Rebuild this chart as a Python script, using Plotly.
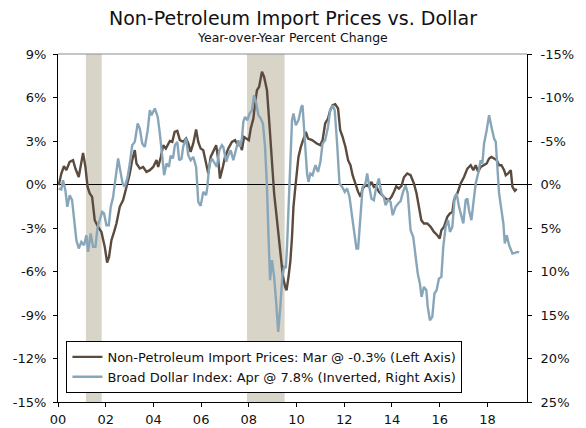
import plotly.graph_objects as go

# ---------------- data ----------------
import_x = [2000.03, 2000.14, 2000.25, 2000.35, 2000.49, 2000.63, 2000.73, 2000.87,
            2001.05, 2001.15, 2001.24, 2001.33, 2001.43, 2001.54, 2001.68, 2001.82, 2001.96,
            2002.06, 2002.14, 2002.24, 2002.35, 2002.45, 2002.59, 2002.73, 2002.87,
            2003.01, 2003.11, 2003.22, 2003.29, 2003.43, 2003.57, 2003.71, 2003.85, 2003.99,
            2004.13, 2004.20, 2004.31, 2004.41, 2004.52, 2004.69, 2004.79, 2004.89,
            2005.00, 2005.11, 2005.25, 2005.37, 2005.46, 2005.56, 2005.67, 2005.79, 2005.88, 2005.98,
            2006.09, 2006.21, 2006.30, 2006.40, 2006.51, 2006.63, 2006.72, 2006.79, 2006.91,
            2007.00, 2007.14, 2007.29, 2007.42, 2007.54, 2007.63, 2007.71, 2007.80, 2007.92,
            2008.00, 2008.08, 2008.19, 2008.26, 2008.34, 2008.43, 2008.55, 2008.64, 2008.76, 2008.87, 2008.97,
            2009.06, 2009.18, 2009.29, 2009.34, 2009.43, 2009.53, 2009.58, 2009.66, 2009.74, 2009.81, 2009.87, 2009.95,
            2010.02, 2010.08, 2010.18, 2010.29, 2010.39, 2010.48, 2010.65, 2010.85, 2010.99,
            2011.09, 2011.20, 2011.32, 2011.41, 2011.51, 2011.62, 2011.74, 2011.83, 2011.93,
            2012.05, 2012.16, 2012.26, 2012.35, 2012.47, 2012.58, 2012.68, 2012.77, 2012.89,
            2013.03, 2013.14, 2013.24, 2013.34, 2013.45, 2013.59, 2013.73, 2013.87, 2013.98,
            2014.08, 2014.18, 2014.29, 2014.40, 2014.50, 2014.64, 2014.78, 2014.92,
            2015.03, 2015.13, 2015.23, 2015.34, 2015.48, 2015.62, 2015.76, 2015.90,
            2016.00, 2016.07, 2016.18, 2016.32, 2016.43, 2016.53, 2016.60, 2016.74, 2016.88,
            2017.02, 2017.16, 2017.30, 2017.41, 2017.51, 2017.61, 2017.72, 2017.86, 2017.97,
            2018.07, 2018.17, 2018.28, 2018.39, 2018.49, 2018.59, 2018.70, 2018.77, 2018.87, 2018.98,
            2019.05, 2019.15, 2019.23]
import_y = [-0.05, 0.76, 1.26, 0.99, 1.56, 1.68, 1.10, 0.52,
            2.18, 1.21, -0.17, -0.62, -0.85, -2.46, -2.92, -3.27, -4.30,
            -5.38, -4.99, -3.84, -3.27, -2.69, -1.54, -1.08, -0.17,
            0.76, 1.68, 2.37, 1.45, 1.10, 1.21, 0.87, 0.99, 1.21,
            1.68, 1.21, 1.90, 2.71, 2.48, 3.00, 2.94, 3.63,
            3.70, 3.06, 2.94, 3.17, 2.83, 2.25, 2.83, 3.79, 2.94, 2.48,
            2.37, 1.45, 0.76, 1.90, 2.25, 2.71, 1.68, 0.41, 1.21,
            1.90, 2.48, 2.94, 3.06, 2.71, 2.83, 2.37, 3.28, 3.17,
            3.06, 3.86, 4.55, 5.59, 6.50, 6.73, 7.77, 7.42, 6.50, 3.97, 1.21,
            -0.62, -2.46, -4.30, -5.33, -6.37, -7.10, -7.29, -6.40, -5.30, -3.61, -1.54, -0.17,
            0.76, 1.90, 2.59, 3.06, 3.63, 3.17, 3.06, 2.83, 2.71,
            3.06, 4.21, 4.55, 5.12, 5.47, 5.54, 5.24, 3.74, 3.28,
            2.59, 1.68, 1.33, 0.64, -0.05, -0.51, -0.85, -0.28, -0.05,
            -0.12, 0.18, -0.17, -0.12, -0.51, -0.74, -0.97, -1.08, -0.85,
            -0.51, -0.12, -0.28, -0.10, 0.50, 0.76, 0.64, 0.07,
            -0.62, -1.54, -2.46, -2.69, -2.69, -2.92, -3.27, -3.50,
            -3.72, -3.15, -2.92, -2.23, -2.00, -1.89, -1.08, -0.62, 0.07,
            0.52, 1.10, 1.33, 0.99, 1.33, 0.87, 1.21, 1.33, 1.45,
            1.79, 1.90, 1.79, 1.68, 1.33, 1.33, 0.99, 0.64, 0.76, 0.99,
            -0.17, -0.44, -0.30]

dollar_x = [2000.03, 2000.14, 2000.21, 2000.31, 2000.39, 2000.49, 2000.59, 2000.67, 2000.77, 2000.87, 2000.98,
            2001.09, 2001.19, 2001.26, 2001.37, 2001.47, 2001.57, 2001.66, 2001.75, 2001.85, 2001.93,
            2002.03, 2002.13, 2002.21, 2002.31, 2002.41, 2002.52, 2002.62, 2002.71, 2002.80, 2002.92,
            2003.01, 2003.11, 2003.22, 2003.34, 2003.43, 2003.53, 2003.64, 2003.76, 2003.85, 2003.92,
            2004.06, 2004.18, 2004.27, 2004.37, 2004.45, 2004.55, 2004.65, 2004.72, 2004.82, 2004.90,
            2005.00, 2005.08, 2005.18, 2005.25, 2005.37, 2005.46, 2005.56, 2005.67, 2005.79, 2005.88, 2005.98,
            2006.09, 2006.21, 2006.26, 2006.34, 2006.45, 2006.54, 2006.66, 2006.76, 2006.87, 2006.93,
            2007.05, 2007.14, 2007.24, 2007.35, 2007.47, 2007.56, 2007.63, 2007.71, 2007.77, 2007.84, 2007.94,
            2008.03, 2008.13, 2008.22, 2008.31, 2008.40, 2008.50, 2008.59, 2008.68, 2008.76, 2008.82, 2008.89, 2008.97,
            2009.06, 2009.15, 2009.23, 2009.32, 2009.40, 2009.48, 2009.55, 2009.60, 2009.66, 2009.74, 2009.81, 2009.87, 2009.97,
            2010.08, 2010.20, 2010.25, 2010.34, 2010.44, 2010.50, 2010.58, 2010.67, 2010.79, 2010.90,
            2011.00, 2011.09, 2011.20, 2011.32, 2011.41, 2011.51, 2011.60, 2011.70, 2011.80, 2011.91,
            2012.02, 2012.12, 2012.22, 2012.33, 2012.43, 2012.51, 2012.58, 2012.68, 2012.77, 2012.89, 2012.96,
            2013.05, 2013.14, 2013.24, 2013.34, 2013.45, 2013.56, 2013.66, 2013.73, 2013.84, 2013.94,
            2014.03, 2014.15, 2014.26, 2014.36, 2014.46, 2014.57, 2014.66, 2014.78, 2014.89, 2014.99,
            2015.08, 2015.17, 2015.24, 2015.34, 2015.44, 2015.50, 2015.59, 2015.69, 2015.78, 2015.87, 2015.97,
            2016.07, 2016.15, 2016.25, 2016.35, 2016.43, 2016.53, 2016.63, 2016.71, 2016.81, 2016.91, 2016.99,
            2017.09, 2017.16, 2017.23, 2017.33, 2017.41, 2017.51, 2017.61, 2017.72, 2017.79, 2017.86, 2017.97,
            2018.07, 2018.17, 2018.28, 2018.35, 2018.42, 2018.49, 2018.59, 2018.67, 2018.73, 2018.81, 2018.91,
            2019.05, 2019.15, 2019.26, 2019.33]
dollar_y = [0.46, 0.57, -0.49, 0.66, 2.57, 1.23, 1.80, 3.72, 6.40, 7.36, 6.60,
            6.98, 5.83, 7.75, 5.63, 7.17, 7.17, 4.87, 4.10, 3.15, 3.33,
            4.68, 4.68, 2.57, 1.43, -0.87, -2.99, -1.45, -0.11, 0.28, -0.87,
            -2.41, -4.52, -4.90, -7.01, -6.44, -4.71, -4.32, -6.24, -8.54, -7.97,
            -8.74, -7.77, -5.86, -3.17, -1.07, -2.41, -2.02, -3.30, -3.00, -4.52,
            -4.90, -2.79, -2.99, -4.40, -5.29, -3.37, -2.79, -3.17, -2.02, 2.00, 2.46,
            0.85, 1.23, 0.28, -2.22, -2.99, -2.60, -2.02, -3.94, -4.52, -4.32,
            -2.60, -3.37, -3.94, -2.79, -3.94, -5.09, -4.32, -5.29, -7.20, -7.77, -7.39,
            -8.16, -8.54, -10.26, -9.31, -7.97, -7.59, -7.01, -4.32, 0.28, 5.63, 11.00, 8.70,
            10.62, 13.68, 16.94, 14.07, 10.62, 9.47, 9.60, 7.17, 2.57, -3.56, -7.39, -8.16, -6.82,
            -7.39, -8.92, -9.11, -4.71, -1.26, -0.30, -1.26, -1.07, -2.22, -1.45,
            -2.60, -4.71, -5.09, -6.62, -8.54, -9.11, -8.54, -4.71, -0.11, 0.28,
            0.85, 0.46, 1.43, 3.72, 6.02, 7.36, 7.36, 3.33, 0.28, -0.11, -1.26,
            0.28, 1.61, 1.80, 0.28, -0.69, 1.03, 1.43, 2.38, 1.80, 2.00,
            3.53, 2.57, 2.18, 1.90, 0.90, 0.08, 1.03, 5.25, 6.02, 8.32,
            10.23, 11.38, 12.92, 11.77, 12.15, 14.07, 15.60, 15.22, 12.53, 12.15, 10.80,
            10.62, 7.17, 4.87, 4.10, 5.45, 4.87, 1.43, 1.03, 2.57, 3.72, 4.48,
            1.80, 1.61, 2.95, 4.10, 2.18, -0.11, -1.26, -2.79, -2.41, -4.71, -6.24,
            -7.97, -6.62, -5.29, -4.90, -2.02, 1.03, 2.95, 4.48, 6.78, 5.83, 6.98,
            7.93, 7.86, 7.75, 7.80]

recession_start = [2001.17, 2007.92]
recession_end = [2001.83, 2009.50]

x_tickvals = [2000, 2002, 2004, 2006, 2008, 2010, 2012, 2014, 2016, 2018]
x_ticktext = ["00", "02", "04", "06", "08", "10", "12", "14", "16", "18"]
left_tickvals = [-15, -12, -9, -6, -3, 0, 3, 6, 9]
left_ticktext = ["-15%", "-12%", "-9%", "-6%", "-3%", "0%", "3%", "6%", "9%"]
right_tickvals = [-15, -10, -5, 0, 5, 10, 15, 20, 25]
right_ticktext = ["-15%", "-10%", "-5%", "0%", "5%", "10%", "15%", "20%", "25%"]

name_import = "Non-Petroleum Import Prices: Mar @ -0.3% (Left Axis)"
name_dollar = "Broad Dollar Index: Apr @ 7.8% (Inverted, Right Axis)"

# ---------------- styling ----------------
FONT = "DejaVu Sans"
BROWN = "#5b4a3e"
BLUE = "#88a6b9"
SHADE = "#d8d4c8"
XR = [2000, 2019.66]
YL = [-15, 9]
YR = [25, -15]

fig = go.Figure()
fig.add_trace(go.Scatter(x=import_x, y=import_y, name=name_import, mode="lines",
                         line=dict(color=BROWN, width=2.4), yaxis="y"))
fig.add_trace(go.Scatter(x=dollar_x, y=dollar_y, name=name_dollar, mode="lines",
                         line=dict(color=BLUE, width=2.4), yaxis="y2"))

for s, e in zip(recession_start, recession_end):
    fig.add_vrect(x0=s, x1=e, fillcolor=SHADE, opacity=1, line_width=0, layer="below")

# top frame line
fig.add_shape(type="line", xref="paper", yref="paper", x0=0, x1=1, y0=1, y1=1,
              line=dict(color="#8c8c8c", width=1))

tickfont = dict(family=FONT, size=13, color="#111111")
common = dict(automargin=False, showgrid=False, tickmode="array")

fig.update_layout(
    width=586, height=428, autosize=False,
    margin=dict(l=58, r=59, t=54, b=26, pad=0),
    paper_bgcolor="white", plot_bgcolor="white",
    font=dict(family=FONT, size=13, color="#111111"),
    showlegend=True,
    title=dict(text="Non-Petroleum Import Prices vs. Dollar", x=0.5, xanchor="center",
               y=1 - 18 / 428, yanchor="middle", font=dict(family=FONT, size=19, color="#111111")),
    annotations=[dict(text="Year-over-Year Percent Change", xref="paper", yref="paper",
                      x=0.5, y=1, yshift=17, xanchor="center", yanchor="middle", showarrow=False,
                      font=dict(family=FONT, size=12.5, color="#111111"))],
    xaxis=dict(range=XR, tickvals=x_tickvals, ticktext=x_ticktext,
               zeroline=False, showline=True, linecolor="black", linewidth=1,
               ticks="outside", ticklen=4, tickcolor="black", tickfont=tickfont,
               ticklabelstandoff=1, **common),
    xaxis2=dict(range=XR, overlaying="x", anchor="y", tickvals=x_tickvals,
                showticklabels=False, zeroline=False, showline=False,
                ticks="inside", ticklen=4, tickcolor="black", **common),
    yaxis=dict(range=YL, tickvals=left_tickvals, ticktext=left_ticktext,
               zeroline=True, zerolinecolor="black", zerolinewidth=1,
               showline=True, linecolor="black", linewidth=1,
               ticks="outside", ticklen=4, tickcolor="black", tickfont=tickfont,
               ticklabelstandoff=4, **common),
    yaxis2=dict(range=YR, overlaying="y", side="right",
                tickvals=right_tickvals, ticktext=right_ticktext,
                zeroline=False, showline=True, linecolor="black", linewidth=1,
                ticks="outside", ticklen=4, tickcolor="black", tickfont=tickfont,
                ticklabelstandoff=6, **common),
    yaxis3=dict(range=YL, overlaying="y", side="left", anchor="x",
                tickvals=left_tickvals, showticklabels=False, zeroline=False,
                showline=False, ticks="inside", ticklen=4, tickcolor="black", **common),
    yaxis4=dict(range=YR, overlaying="y", side="right", anchor="x",
                tickvals=right_tickvals, showticklabels=False, zeroline=False,
                showline=False, ticks="inside", ticklen=4, tickcolor="black", **common),
    legend=dict(x=0.018, y=0.026, xanchor="left", yanchor="bottom",
                bgcolor="white", bordercolor="black", borderwidth=1,
                font=dict(family=FONT, size=13, color="#111111"),
                itemwidth=30, tracegroupgap=0),
)

fig.write_html(
    "out.html",
    config={"displayModeBar": False, "responsive": False},
    post_script="document.documentElement.style.margin='0';document.body.style.margin='0';"
                "document.body.style.padding='0';",
)
